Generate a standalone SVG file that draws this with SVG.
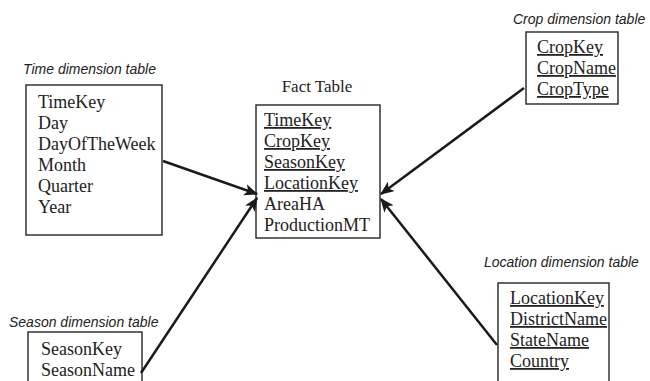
<svg xmlns="http://www.w3.org/2000/svg" width="650" height="381" viewBox="0 0 650 381">
<defs>
<style>
.box{fill:#fff;stroke:#333;stroke-width:1.5}
.t{font-family:"Liberation Serif","Times New Roman",serif;font-size:18px;fill:#222}
.u{text-decoration:underline}
.cap{font-family:"Liberation Sans",Arial,sans-serif;font-size:14px;font-style:italic;fill:#222}
.ft{font-family:"Liberation Serif","Times New Roman",serif;font-size:17px;fill:#222}
.c{stroke:#1a1a1a;stroke-width:2.5;fill:none;marker-end:url(#ah)}
</style>
<marker id="ah" viewBox="0 0 12 10" refX="11" refY="5" markerWidth="5.6" markerHeight="4.7" orient="auto" markerUnits="strokeWidth">
<path d="M0,0 L12,5 L0,10 L3,5 Z" fill="#1a1a1a"/>
</marker>
</defs>
<rect width="650" height="381" fill="#fff"/>
<g id="time">
<text class="cap" x="23" y="74">Time dimension table</text>
<rect class="box" x="26" y="85" width="136" height="150"/>
<text class="t" x="38" y="108">TimeKey</text>
<text class="t" x="38" y="129">Day</text>
<text class="t" x="38" y="150">DayOfTheWeek</text>
<text class="t" x="38" y="171">Month</text>
<text class="t" x="38" y="192">Quarter</text>
<text class="t" x="38" y="213">Year</text>
</g>
<g id="fact">
<text class="ft" x="317" y="92" text-anchor="middle">Fact Table</text>
<rect class="box" x="256" y="105" width="124" height="133"/>
<text class="t u" x="264" y="126">TimeKey</text>
<text class="t u" x="264" y="147">CropKey</text>
<text class="t u" x="264" y="168">SeasonKey</text>
<text class="t u" x="264" y="189">LocationKey</text>
<text class="t" x="264" y="210">AreaHA</text>
<text class="t" x="264" y="231">ProductionMT</text>
</g>
<g id="crop">
<text class="cap" x="513" y="24">Crop dimension table</text>
<rect class="box" x="526" y="32" width="92" height="72"/>
<text class="t u" x="537" y="53">CropKey</text>
<text class="t u" x="537" y="74">CropName</text>
<text class="t u" x="537" y="95">CropType</text>
</g>
<g id="season">
<text class="cap" x="9" y="327">Season dimension table</text>
<rect class="box" x="28" y="332" width="114" height="60"/>
<text class="t" x="41" y="355">SeasonKey</text>
<text class="t" x="41" y="376">SeasonName</text>
</g>
<g id="location">
<text class="cap" x="484" y="267">Location dimension table</text>
<rect class="box" x="498" y="283" width="111" height="110"/>
<text class="t u" x="510" y="304">LocationKey</text>
<text class="t u" x="510" y="325">DistrictName</text>
<text class="t u" x="510" y="346">StateName</text>
<text class="t u" x="510" y="367">Country</text>
</g>
<g id="connectors">
<line class="c" x1="163" y1="161" x2="257" y2="194"/>
<line class="c" x1="141" y1="373" x2="257" y2="198"/>
<line class="c" x1="524" y1="88" x2="381" y2="194"/>
<line class="c" x1="497" y1="345" x2="381" y2="199"/>
</g>
</svg>
